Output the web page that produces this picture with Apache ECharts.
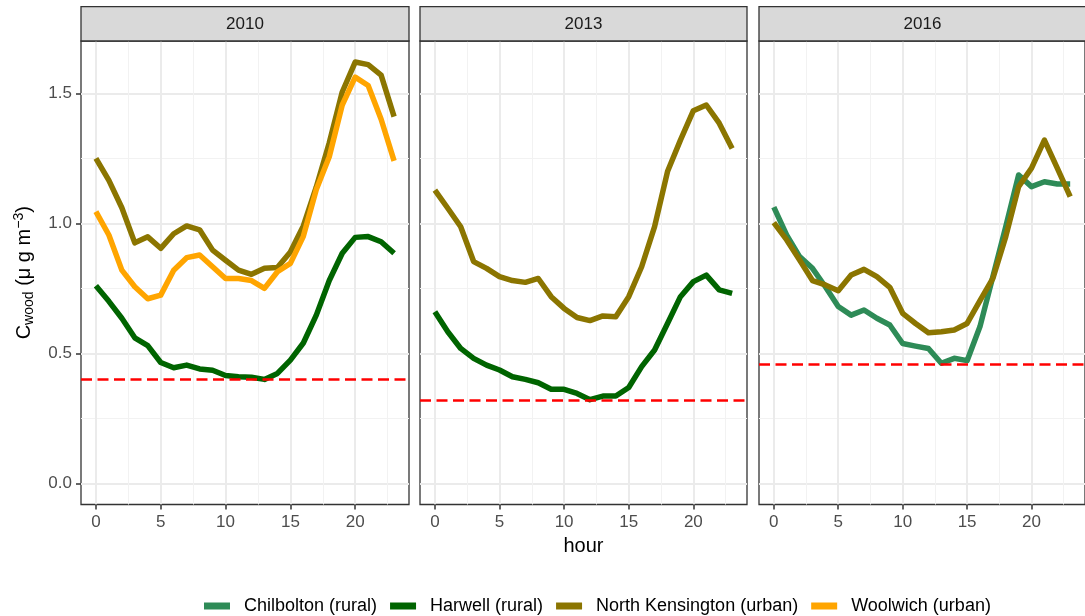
<!DOCTYPE html>
<html><head><meta charset="utf-8">
<script src="https://cdn.jsdelivr.net/npm/echarts@6/dist/echarts.min.js"></script>
<style>html,body{margin:0;padding:0;background:#fff}#c{width:1085px;height:616px}</style>
</head><body><div id="c"></div><script>
// ---- data ----
const hours = [0,1,2,3,4,5,6,7,8,9,10,11,12,13,14,15,16,17,18,19,20,21,22,23];
const years = ['2010', '2013', '2016'];
const stations = ['Chilbolton (rural)', 'Harwell (rural)', 'North Kensington (urban)', 'Woolwich (urban)'];
const stationColors = ['#2E8B57', '#006400', '#8B7500', '#FFA500'];

const harwell2010   = [0.76,0.70,0.635,0.56,0.53,0.465,0.445,0.455,0.44,0.435,0.415,0.41,0.408,0.40,0.423,0.474,0.54,0.647,0.78,0.885,0.946,0.949,0.929,0.885];
const nk2010        = [1.25,1.165,1.06,0.925,0.948,0.904,0.96,0.99,0.975,0.897,0.858,0.82,0.804,0.827,0.83,0.89,0.99,1.14,1.31,1.505,1.62,1.61,1.57,1.41];
const woolwich2010  = [1.045,0.955,0.82,0.756,0.71,0.724,0.82,0.868,0.878,0.833,0.788,0.788,0.78,0.75,0.814,0.846,0.95,1.13,1.256,1.455,1.562,1.53,1.40,1.24];
const harwell2013   = [0.66,0.583,0.519,0.481,0.455,0.436,0.41,0.40,0.387,0.362,0.362,0.346,0.322,0.336,0.336,0.369,0.449,0.513,0.615,0.718,0.776,0.801,0.744,0.731];
const nk2013        = [1.128,1.058,0.987,0.853,0.827,0.795,0.78,0.773,0.788,0.718,0.673,0.638,0.626,0.644,0.641,0.718,0.833,0.987,1.199,1.32,1.433,1.455,1.385,1.288];
const chilbolton2016= [1.062,0.955,0.872,0.827,0.756,0.68,0.647,0.667,0.635,0.609,0.538,0.528,0.519,0.462,0.481,0.472,0.603,0.795,0.987,1.186,1.141,1.16,1.151,1.151];
const nk2016        = [1.003,0.936,0.859,0.78,0.763,0.741,0.801,0.823,0.795,0.754,0.654,0.615,0.579,0.583,0.59,0.615,0.703,0.788,0.949,1.141,1.212,1.32,1.212,1.103];
const baselines = [0.397, 0.32, 0.462];

const xMajorTicks = [0, 5, 10, 15, 20];
const xMinorTicks = [2.5, 7.5, 12.5, 17.5, 22.5];
const yMajorTicks = [0, 0.5, 1.0, 1.5];
const yMinorTicks = [0.25, 0.75, 1.25];

// panel contents: [station index, values]
const panelSeries = [
  [[1, harwell2010], [2, nk2010], [3, woolwich2010]],
  [[1, harwell2013], [2, nk2013]],
  [[0, chilbolton2016], [2, nk2016]]
];

// ---- layout ----
const xRange = [-1.15, 24.15];
const yRange = [-0.081, 1.701];
const panels = [{left: 81, width: 328}, {left: 420, width: 327}, {left: 759, width: 327}];
const panelTop = 41, panelHeight = 463.5, stripTop = 6.7;
const FONT = 'Liberation Sans, Arial, sans-serif';

const grid = [], xAxis = [], yAxis = [], series = [], graphic = [];
panels.forEach((p, i) => {
  grid.push({left: p.left, top: panelTop, width: p.width, height: panelHeight, show: true,
    borderColor: '#333333', borderWidth: 1.3, backgroundColor: 'transparent', containLabel: false});
  // major x
  xAxis.push({
    gridIndex: i, type: 'value', min: xRange[0], max: xRange[1], position: 'bottom',
    axisLine: {show: false, onZero: false},
    axisTick: {show: true, inside: false, length: 5, customValues: xMajorTicks, lineStyle: {color: '#333333', width: 1.5}},
    axisLabel: {show: true, customValues: xMajorTicks, fontSize: 17, color: '#4D4D4D', margin: 9, fontFamily: FONT},
    splitLine: {show: true, lineStyle: {color: '#EBEBEB', width: 2}},
    name: i === 1 ? 'hour' : '', nameLocation: 'middle', nameGap: 32,
    nameTextStyle: {fontSize: 20, color: '#000', fontFamily: FONT}
  });
  // minor x
  xAxis.push({
    gridIndex: i, type: 'value', min: xRange[0], max: xRange[1], position: 'bottom',
    axisLine: {show: false, onZero: false}, axisLabel: {show: false, customValues: xMinorTicks},
    axisTick: {show: false, customValues: xMinorTicks},
    splitLine: {show: true, lineStyle: {color: '#F2F2F2', width: 1}}
  });
  yAxis.push({
    gridIndex: i, type: 'value', min: yRange[0], max: yRange[1], position: 'left',
    axisLine: {show: false, onZero: false},
    axisTick: {show: i === 0, inside: false, length: 5, customValues: yMajorTicks, lineStyle: {color: '#333333', width: 1.5}},
    axisLabel: {show: i === 0, customValues: yMajorTicks, fontSize: 17, color: '#4D4D4D', margin: 9, fontFamily: FONT,
      formatter: v => Number(v).toFixed(1)},
    splitLine: {show: true, lineStyle: {color: '#EBEBEB', width: 2}},
    name: i === 0 ? '{m|C}{s|wood}{m| (μ g m}{p|−3}{m|)}' : '',
    nameLocation: 'middle', nameRotate: 90, nameGap: 45,
    nameTextStyle: {fontFamily: FONT, fontSize: 20, color: '#000',
      rich: {
        m: {fontSize: 20, lineHeight: 24, verticalAlign: 'middle', color: '#000', fontFamily: FONT},
        s: {fontSize: 14, lineHeight: 14, verticalAlign: 'bottom', color: '#000', fontFamily: FONT},
        p: {fontSize: 14, lineHeight: 14, verticalAlign: 'top', color: '#000', fontFamily: FONT}
      }}
  });
  yAxis.push({
    gridIndex: i, type: 'value', min: yRange[0], max: yRange[1], position: 'left',
    axisLine: {show: false, onZero: false}, axisLabel: {show: false, customValues: yMinorTicks},
    axisTick: {show: false, customValues: yMinorTicks},
    splitLine: {show: true, lineStyle: {color: '#F2F2F2', width: 1}}
  });

  panelSeries[i].forEach(([si, vals]) => {
    series.push({
      type: 'line', name: stations[si], xAxisIndex: 2 * i, yAxisIndex: 2 * i,
      data: hours.map((h, k) => [h, vals[k]]),
      symbol: 'none', showSymbol: false, silent: true,
      lineStyle: {width: 5.5, color: stationColors[si], cap: 'butt', join: 'round'},
      itemStyle: {color: stationColors[si]}, z: 3 + si
    });
  });
  series.push({
    type: 'line', name: 'baseline' + i, xAxisIndex: 2 * i, yAxisIndex: 2 * i, data: [], z: 10,
    markLine: {silent: true, symbol: 'none', animation: false, label: {show: false},
      lineStyle: {color: '#FF0000', type: [11, 5.5], width: 2.5},
      data: [{yAxis: baselines[i]}]}
  });

  graphic.push({type: 'rect', shape: {x: p.left, y: stripTop, width: p.width, height: panelTop - stripTop},
    style: {fill: '#D9D9D9', stroke: '#333333', lineWidth: 1.3}, z: 1});
  graphic.push({type: 'text', x: p.left + p.width / 2, y: (stripTop + panelTop) / 2,
    style: {text: years[i], fill: '#1A1A1A', font: '17px ' + FONT, align: 'center', verticalAlign: 'middle'}, z: 2});
});

const chart = echarts.init(document.getElementById('c'), null, {renderer: 'canvas'});
chart.setOption({
  animation: false,
  backgroundColor: '#ffffff',
  textStyle: {fontFamily: FONT},
  grid, xAxis, yAxis, series, graphic,
  legend: {
    data: stations, left: 199, top: 592, icon: 'rect', itemWidth: 26, itemHeight: 7, itemGap: 13,
    selectedMode: false,
    textStyle: {fontSize: 18, color: '#000', fontFamily: FONT, padding: [0, 0, 0, 9]}
  }
});
</script></body></html>
